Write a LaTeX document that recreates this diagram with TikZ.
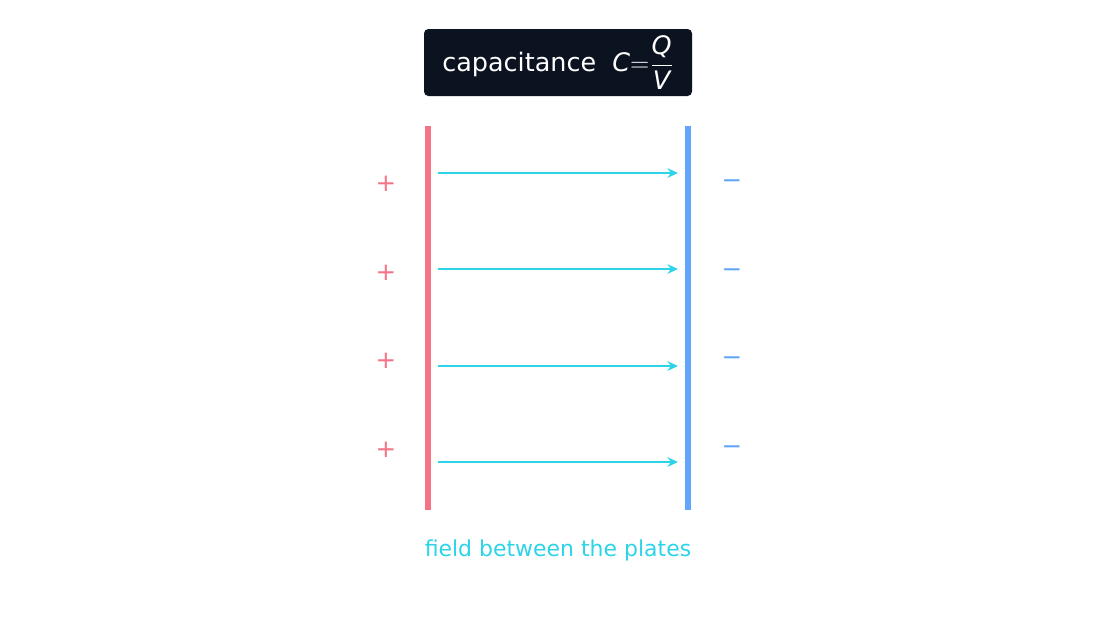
\documentclass[tikz,border=0pt]{standalone}
\usepackage{fontspec}
\usepackage{amsmath}
\setmainfont{DejaVu Sans}
\usetikzlibrary{arrows.meta}
\definecolor{navy}{HTML}{0B1220}
\definecolor{posred}{HTML}{F47386}
\definecolor{negblue}{HTML}{60A5FA}
\definecolor{fieldcyan}{HTML}{2DD4E8}
\tikzset{
  plate/.style={line width=3.4pt},
  fieldline/.style={fieldcyan, line width=1.4pt, -{Stealth[length=6pt,width=5.5pt]}},
  charge/.style={font=\fontsize{14}{16}\selectfont}
}
\begin{document}
\begin{tikzpicture}[x=0.02cm,y=-0.02cm]
    \useasboundingbox (0,0) rectangle (1116,636);
    \node (title) [fill=navy, rounded corners=2.5pt, minimum width=268*0.02cm, minimum height=67*0.02cm,
      text=white, font=\fontsize{14.5}{17}\selectfont, inner sep=1pt] at (558,62.5)
      {capacitance\ \ $\mathit{C}\mathrm{=}\dfrac{\mathit{Q}}{\mathit{V}}$};
    % plates
    \coordinate (lt) at (428,126);
    \coordinate (lb) at (428,510);
    \coordinate (rt) at (688,126);
    \coordinate (rb) at (688,510);
    \draw [plate, posred] (lt) -- (lb);
    \draw [plate, negblue] (rt) -- (rb);
    % field lines
    \foreach \y [count=\i] in {173,269,366,462} {
      \coordinate (a\i) at (438,\y);
      \coordinate (b\i) at (678,\y);
      \draw [fieldline] (a\i) -- (b\i);
    }
    % charges
    \foreach \y [count=\i] in {184,273,361,450} {
      \node (p\i) [charge, text=posred] at (386,\y) {+};
      \node (m\i) [charge, text=negblue] at (732,\y) {−};
    }
    \node (caption) [text=fieldcyan, font=\fontsize{12.5}{15}\selectfont] at (558,550) {field between the plates};
\end{tikzpicture}
\end{document}
